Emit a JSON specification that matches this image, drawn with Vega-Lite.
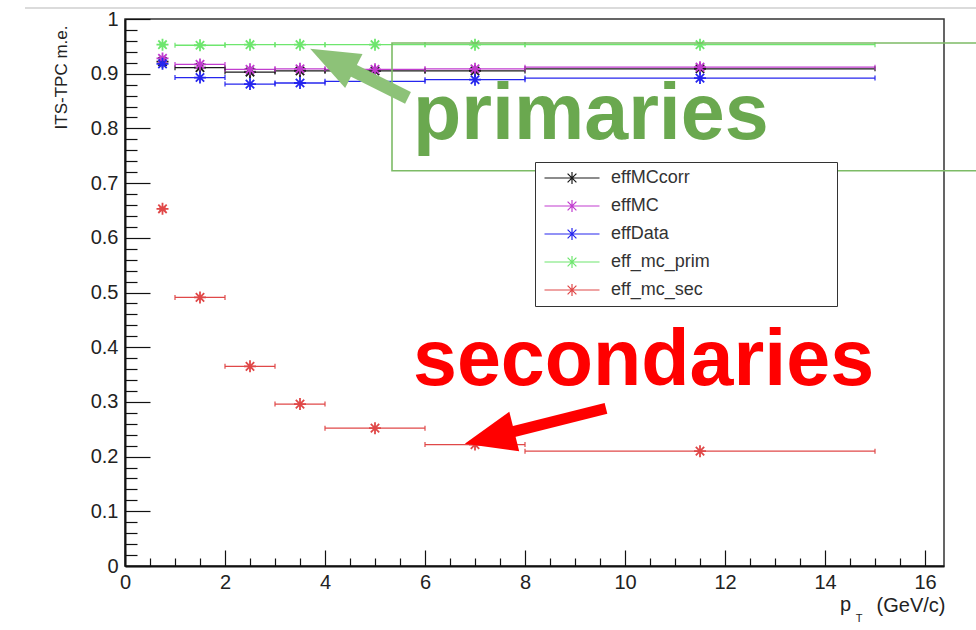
{
  "$schema": "https://vega.github.io/schema/vega-lite/v6.json",
  "width": 819,
  "height": 547,
  "autosize": {"type": "none"},
  "padding": {"left": 125, "top": 19, "right": 32, "bottom": 64},
  "background": "white",
  "config": {
    "font": "Liberation Sans",
    "view": {"stroke": "#333333", "strokeWidth": 1.5},
    "legend": {"strokeColor": "#333333", "fillColor": "white"}
  },
  "resolve": {"axis": {"x": "independent", "y": "independent"}},
  "datasets": {
    "pts": [
      {"series": "effMCcorr", "x": 0.75, "xlo": 0.7, "xhi": 0.8, "y": 0.922},
      {"series": "effMCcorr", "x": 1.5, "xlo": 1, "xhi": 2, "y": 0.911},
      {"series": "effMCcorr", "x": 2.5, "xlo": 2, "xhi": 3, "y": 0.903},
      {"series": "effMCcorr", "x": 3.5, "xlo": 3, "xhi": 4, "y": 0.905},
      {"series": "effMCcorr", "x": 5, "xlo": 4, "xhi": 6, "y": 0.905},
      {"series": "effMCcorr", "x": 7, "xlo": 6, "xhi": 8, "y": 0.905},
      {"series": "effMCcorr", "x": 11.5, "xlo": 8, "xhi": 15, "y": 0.909},
      {"series": "effMC", "x": 0.75, "xlo": 0.7, "xhi": 0.8, "y": 0.928},
      {"series": "effMC", "x": 1.5, "xlo": 1, "xhi": 2, "y": 0.917},
      {"series": "effMC", "x": 2.5, "xlo": 2, "xhi": 3, "y": 0.908},
      {"series": "effMC", "x": 3.5, "xlo": 3, "xhi": 4, "y": 0.909},
      {"series": "effMC", "x": 5, "xlo": 4, "xhi": 6, "y": 0.908},
      {"series": "effMC", "x": 7, "xlo": 6, "xhi": 8, "y": 0.909},
      {"series": "effMC", "x": 11.5, "xlo": 8, "xhi": 15, "y": 0.912},
      {"series": "effData", "x": 0.75, "xlo": 0.7, "xhi": 0.8, "y": 0.918},
      {"series": "effData", "x": 1.5, "xlo": 1, "xhi": 2, "y": 0.893},
      {"series": "effData", "x": 2.5, "xlo": 2, "xhi": 3, "y": 0.881},
      {"series": "effData", "x": 3.5, "xlo": 3, "xhi": 4, "y": 0.883},
      {"series": "effData", "x": 5, "xlo": 4, "xhi": 6, "y": 0.886},
      {"series": "effData", "x": 7, "xlo": 6, "xhi": 8, "y": 0.889},
      {"series": "effData", "x": 11.5, "xlo": 8, "xhi": 15, "y": 0.892},
      {"series": "eff_mc_prim", "x": 0.75, "xlo": 0.7, "xhi": 0.8, "y": 0.953},
      {"series": "eff_mc_prim", "x": 1.5, "xlo": 1, "xhi": 2, "y": 0.952},
      {"series": "eff_mc_prim", "x": 2.5, "xlo": 2, "xhi": 3, "y": 0.953},
      {"series": "eff_mc_prim", "x": 3.5, "xlo": 3, "xhi": 4, "y": 0.953},
      {"series": "eff_mc_prim", "x": 5, "xlo": 4, "xhi": 6, "y": 0.953},
      {"series": "eff_mc_prim", "x": 7, "xlo": 6, "xhi": 8, "y": 0.953},
      {"series": "eff_mc_prim", "x": 11.5, "xlo": 8, "xhi": 15, "y": 0.953},
      {"series": "eff_mc_sec", "x": 0.75, "xlo": 0.7, "xhi": 0.8, "y": 0.653},
      {"series": "eff_mc_sec", "x": 1.5, "xlo": 1, "xhi": 2, "y": 0.491},
      {"series": "eff_mc_sec", "x": 2.5, "xlo": 2, "xhi": 3, "y": 0.365},
      {"series": "eff_mc_sec", "x": 3.5, "xlo": 3, "xhi": 4, "y": 0.296},
      {"series": "eff_mc_sec", "x": 5, "xlo": 4, "xhi": 6, "y": 0.252},
      {"series": "eff_mc_sec", "x": 7, "xlo": 6, "xhi": 8, "y": 0.222},
      {"series": "eff_mc_sec", "x": 11.5, "xlo": 8, "xhi": 15, "y": 0.210}
    ]
  },
  "layer": [
    {
      "data": {"name": "pts"},
      "mark": {"type": "rule", "strokeWidth": 1.3},
      "encoding": {
        "x": {
          "field": "xlo", "type": "quantitative",
          "scale": {"domain": [0, 16.38], "nice": false, "zero": false},
          "axis": {
            "title": "(GeV/c)",
            "grid": false,
            "values": [0,0.5,1,1.5,2,2.5,3,3.5,4,4.5,5,5.5,6,6.5,7,7.5,8,8.5,9,9.5,10,10.5,11,11.5,12,12.5,13,13.5,14,14.5,15,15.5,16],
            "tickSize": {"condition": {"test": "datum.value % 2 === 0", "value": -16}, "value": -8},
            "tickColor": "#111111", "tickWidth": 1.2,
            "domainColor": "#111111", "domainWidth": 2,
            "labelExpr": "datum.value % 2 === 0 ? format(datum.value, 'd') : ''",
            "labelFont": "Liberation Sans", "labelFontSize": 20, "labelColor": "#222222",
            "labelPadding": 22, "labelFlush": false, "labelOverlap": false, "labelBound": false,
            "titleFont": "Liberation Sans", "titleFontSize": 20, "titleFontWeight": "normal", "titleColor": "#222222",
            "titleAnchor": "end", "titleAlign": "right", "titleBaseline": "alphabetic",
            "titleX": 820, "titleY": 45
          }
        },
        "x2": {"field": "xhi"},
        "y": {
          "field": "y", "type": "quantitative",
          "scale": {"domain": [0, 1], "nice": false, "zero": false},
          "axis": {
            "title": "ITS-TPC m.e.",
            "grid": false,
            "values": [0,0.02,0.04,0.06,0.08,0.1,0.12,0.14,0.16,0.18,0.2,0.22,0.24,0.26,0.28,0.3,0.32,0.34,0.36,0.38,0.4,0.42,0.44,0.46,0.48,0.5,0.52,0.54,0.56,0.58,0.6,0.62,0.64,0.66,0.68,0.7,0.72,0.74,0.76,0.78,0.8,0.82,0.84,0.86,0.88,0.9,0.92,0.94,0.96,0.98,1],
            "tickSize": {"condition": {"test": "abs(datum.value*10 - round(datum.value*10)) < 0.001", "value": -25}, "value": -12},
            "tickColor": "#111111", "tickWidth": 1.2,
            "domainColor": "#111111", "domainWidth": 2,
            "labelExpr": "abs(datum.value*10 - round(datum.value*10)) < 0.001 ? format(datum.value, '.1~f') : ''",
            "labelFont": "Liberation Sans", "labelFontSize": 20, "labelColor": "#222222",
            "labelPadding": 32, "labelFlush": false, "labelOverlap": false, "labelBound": false,
            "titleFont": "Liberation Sans", "titleFontSize": 17, "titleFontWeight": "normal", "titleColor": "#222222",
            "titleAngle": -90, "titleAlign": "right", "titleBaseline": "middle",
            "titleX": -64, "titleY": 6
          }
        },
        "color": {
          "field": "series", "type": "nominal",
          "scale": {
            "domain": ["effMCcorr", "effMC", "effData", "eff_mc_prim", "eff_mc_sec"],
            "range": ["#1a1a1a", "#c13ccf", "#2626ee", "#6ee66e", "#e04848"]
          },
          "legend": {
            "orient": "none", "legendX": 410, "legendY": 143,
            "title": null,
            "symbolType": "M-5,0L5,0M-1.1,0L1.1,0M0,-1.1L0,1.1M-0.8,-0.8L0.8,0.8M-0.8,0.8L0.8,-0.8",
            "symbolSize": 121, "symbolStrokeWidth": 1.2, "symbolOffset": 21,
            "labelOffset": 30, "labelFont": "Liberation Sans", "labelFontSize": 18, "labelColor": "#333333",
            "labelLimit": 400,
            "labelExpr": "datum.label + '\u00a0\u00a0\u00a0\u00a0\u00a0\u00a0\u00a0\u00a0\u00a0\u00a0\u00a0\u00a0\u00a0\u00a0\u00a0\u00a0\u00a0\u00a0\u00a0\u00a0\u00a0\u00a0\u00a0\u00a0\u200b'",
            "rowPadding": 10, "padding": 7,
            "strokeColor": "#333333", "fillColor": "white"
          }
        }
      }
    },
    {
      "data": {"name": "pts"},
      "mark": {"type": "tick", "orient": "vertical", "size": 5, "thickness": 1.2, "opacity": 1},
      "encoding": {
        "x": {"field": "xlo", "type": "quantitative", "scale": {"domain": [0, 16.38], "nice": false, "zero": false}, "axis": null},
        "y": {"field": "y", "type": "quantitative", "scale": {"domain": [0, 1], "nice": false, "zero": false}, "axis": null},
        "color": {"field": "series", "type": "nominal"}
      }
    },
    {
      "data": {"name": "pts"},
      "mark": {"type": "tick", "orient": "vertical", "size": 5, "thickness": 1.2, "opacity": 1},
      "encoding": {
        "x": {"field": "xhi", "type": "quantitative", "scale": {"domain": [0, 16.38], "nice": false, "zero": false}, "axis": null},
        "y": {"field": "y", "type": "quantitative", "scale": {"domain": [0, 1], "nice": false, "zero": false}, "axis": null},
        "color": {"field": "series", "type": "nominal"}
      }
    },
    {
      "data": {"name": "pts"},
      "mark": {"type": "point", "filled": false, "opacity": 1, "size": 144, "strokeWidth": 1.8,
               "shape": "M-1,0L1,0M0,-1L0,1M-0.7,-0.7L0.7,0.7M-0.7,0.7L0.7,-0.7"},
      "encoding": {
        "x": {"field": "x", "type": "quantitative", "scale": {"domain": [0, 16.38], "nice": false, "zero": false}, "axis": null},
        "y": {"field": "y", "type": "quantitative", "scale": {"domain": [0, 1], "nice": false, "zero": false}, "axis": null},
        "color": {"field": "series", "type": "nominal"}
      }
    },
    {
      "data": {"values": [{"xa": -2, "xb": 17.1, "y": 1.0201}]},
      "mark": {"type": "rule", "color": "#cfcfcf", "strokeWidth": 1.5},
      "encoding": {
        "x": {"field": "xa", "type": "quantitative", "scale": {"domain": [0, 16.38], "nice": false, "zero": false}, "axis": null},
        "x2": {"field": "xb"},
        "y": {"field": "y", "type": "quantitative", "scale": {"domain": [0, 1], "nice": false, "zero": false}, "axis": null}
      }
    },
    {
      "data": {"values": [{"xa": 5.34, "xb": 17.5, "ya": 0.7226, "yb": 0.956}]},
      "mark": {"type": "rect", "fill": "white", "fillOpacity": 0, "stroke": "#7dbb66", "strokeWidth": 1.6},
      "encoding": {
        "x": {"field": "xa", "type": "quantitative", "scale": {"domain": [0, 16.38], "nice": false, "zero": false}, "axis": null},
        "x2": {"field": "xb"},
        "y": {"field": "ya", "type": "quantitative", "scale": {"domain": [0, 1], "nice": false, "zero": false}, "axis": null},
        "y2": {"field": "yb"}
      }
    },
    {
      "data": {"values": [{"xa": 5.66, "ya": 0.8558, "xb": 4.14, "yb": 0.9252}]},
      "mark": {"type": "rule", "color": "#8dc278", "strokeWidth": 13, "strokeCap": "butt"},
      "encoding": {
        "x": {"field": "xa", "type": "quantitative", "scale": {"domain": [0, 16.38], "nice": false, "zero": false}, "axis": null},
        "y": {"field": "ya", "type": "quantitative", "scale": {"domain": [0, 1], "nice": false, "zero": false}, "axis": null},
        "x2": {"field": "xb"},
        "y2": {"field": "yb"}
      }
    },
    {
      "data": {"values": [{"x": 4.14, "y": 0.9252}]},
      "mark": {"type": "point", "filled": true, "opacity": 1, "color": "#8dc278", "size": 2401, "angle": 297,
               "shape": "M0,-1L0.78,1L-0.78,1Z"},
      "encoding": {
        "x": {"field": "x", "type": "quantitative", "scale": {"domain": [0, 16.38], "nice": false, "zero": false}, "axis": null},
        "y": {"field": "y", "type": "quantitative", "scale": {"domain": [0, 1], "nice": false, "zero": false}, "axis": null}
      }
    },
    {
      "data": {"values": [{"xa": 9.62, "ya": 0.2883, "xb": 7.29, "yb": 0.2347}]},
      "mark": {"type": "rule", "color": "#ff0000", "strokeWidth": 11, "strokeCap": "butt"},
      "encoding": {
        "x": {"field": "xa", "type": "quantitative", "scale": {"domain": [0, 16.38], "nice": false, "zero": false}, "axis": null},
        "y": {"field": "ya", "type": "quantitative", "scale": {"domain": [0, 1], "nice": false, "zero": false}, "axis": null},
        "x2": {"field": "xb"},
        "y2": {"field": "yb"}
      }
    },
    {
      "data": {"values": [{"x": 7.29, "y": 0.2347}]},
      "mark": {"type": "point", "filled": true, "opacity": 1, "color": "#ff0000", "size": 2601, "angle": 256,
               "shape": "M0,-1L0.8,1L-0.8,1Z"},
      "encoding": {
        "x": {"field": "x", "type": "quantitative", "scale": {"domain": [0, 16.38], "nice": false, "zero": false}, "axis": null},
        "y": {"field": "y", "type": "quantitative", "scale": {"domain": [0, 1], "nice": false, "zero": false}, "axis": null}
      }
    },
    {
      "data": {"values": [{"x": 5.76, "y": 0.781, "label": "primaries"}]},
      "mark": {"type": "text", "align": "left", "baseline": "alphabetic", "font": "Liberation Sans", "fontSize": 79, "fontWeight": "bold", "color": "#6aa84f"},
      "encoding": {
        "x": {"field": "x", "type": "quantitative", "scale": {"domain": [0, 16.38], "nice": false, "zero": false}, "axis": null},
        "y": {"field": "y", "type": "quantitative", "scale": {"domain": [0, 1], "nice": false, "zero": false}, "axis": null},
        "text": {"field": "label"}
      }
    },
    {
      "data": {"values": [{"x": 5.76, "y": 0.3303, "label": "secondaries"}]},
      "mark": {"type": "text", "align": "left", "baseline": "alphabetic", "font": "Liberation Sans", "fontSize": 79, "fontWeight": "bold", "color": "#ff0000"},
      "encoding": {
        "x": {"field": "x", "type": "quantitative", "scale": {"domain": [0, 16.38], "nice": false, "zero": false}, "axis": null},
        "y": {"field": "y", "type": "quantitative", "scale": {"domain": [0, 1], "nice": false, "zero": false}, "axis": null},
        "text": {"field": "label"}
      }
    },
    {
      "data": {"values": [{"x": 14.3, "y": -0.0821, "label": "p"}]},
      "mark": {"type": "text", "align": "left", "baseline": "alphabetic", "font": "Liberation Sans", "fontSize": 20, "color": "#222222"},
      "encoding": {
        "x": {"field": "x", "type": "quantitative", "scale": {"domain": [0, 16.38], "nice": false, "zero": false}, "axis": null},
        "y": {"field": "y", "type": "quantitative", "scale": {"domain": [0, 1], "nice": false, "zero": false}, "axis": null},
        "text": {"field": "label"}
      }
    },
    {
      "data": {"values": [{"x": 14.68, "y": -0.103, "label": "T"}]},
      "mark": {"type": "text", "align": "center", "baseline": "alphabetic", "font": "Liberation Sans", "fontSize": 11, "color": "#222222"},
      "encoding": {
        "x": {"field": "x", "type": "quantitative", "scale": {"domain": [0, 16.38], "nice": false, "zero": false}, "axis": null},
        "y": {"field": "y", "type": "quantitative", "scale": {"domain": [0, 1], "nice": false, "zero": false}, "axis": null},
        "text": {"field": "label"}
      }
    }
  ]
}
